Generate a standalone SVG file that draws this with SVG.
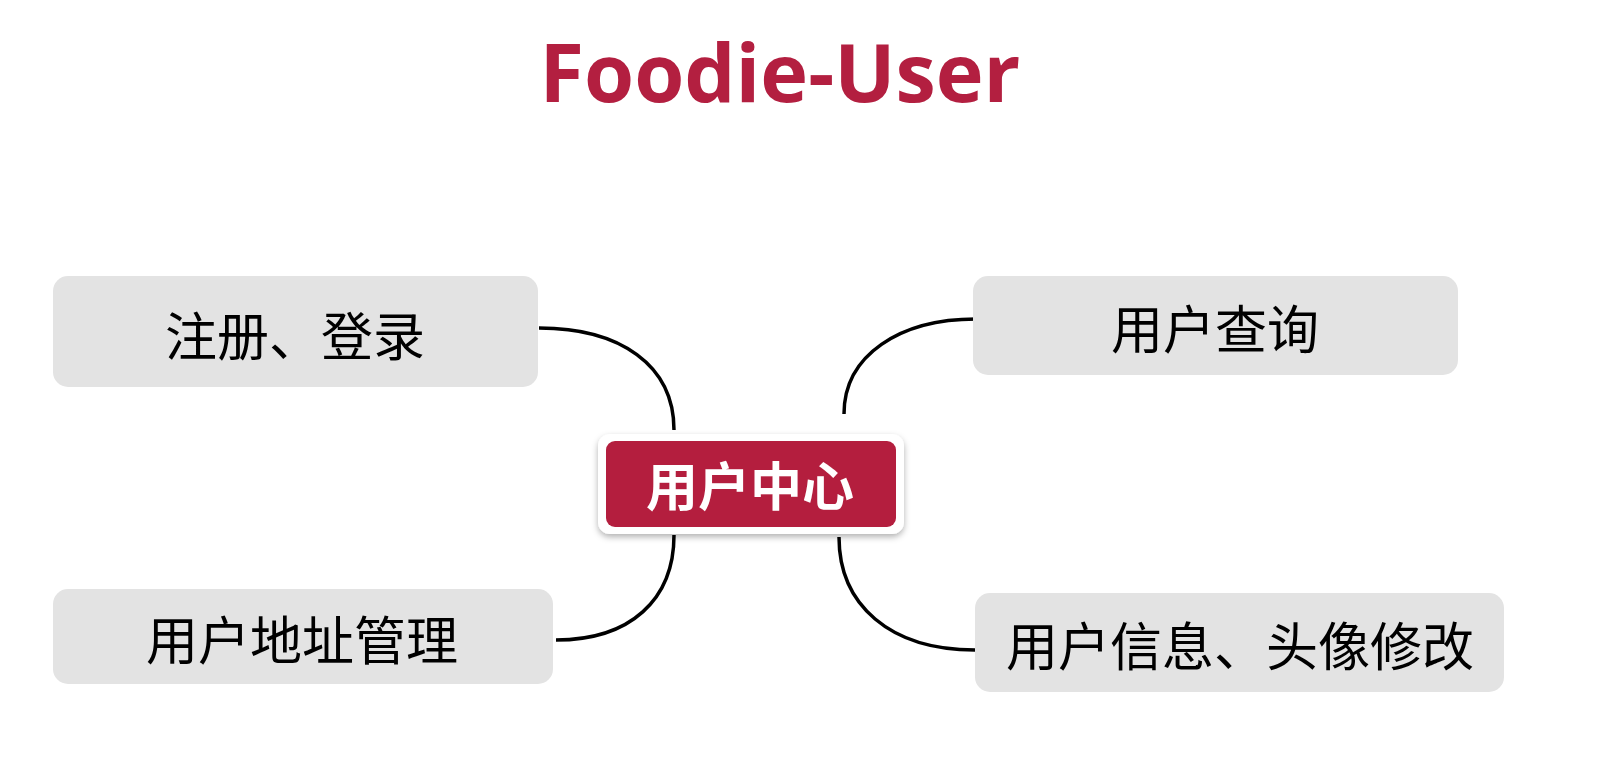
<svg xmlns="http://www.w3.org/2000/svg" width="1614" height="760" viewBox="0 0 1614 760">
<style>
.title{font-family:"Open Sans","Liberation Sans",sans-serif;font-weight:700;font-size:81px;fill:#B31F40}
.box{fill:#E3E3E3}
.lbl{font-family:"Noto Sans CJK SC",sans-serif;font-size:52px;fill:#000;text-anchor:middle;dominant-baseline:central}
.clbl{font-family:"Noto Sans CJK SC",sans-serif;font-size:52px;font-weight:700;fill:#fff;text-anchor:middle;dominant-baseline:central}
.conn path{fill:none;stroke:#000;stroke-width:3.5}
</style>
<defs>
<filter id="sh" x="-10%" y="-20%" width="120%" height="150%">
<feDropShadow dx="0" dy="3" stdDeviation="3" flood-color="#000" flood-opacity="0.3"/>
</filter>
</defs>
<rect width="1614" height="760" fill="#fff"/>
<text class="title" x="780" y="102" text-anchor="middle">Foodie-User</text>
<g class="conn" id="connectors">
<path d="M539,328 C620,328 674,365 674,430"/>
<path d="M976,319 C900,319 844,355 844,414"/>
<path d="M674,535 C674,600 630,640 556,640"/>
<path d="M839,537 C839,605 890,650 975,650"/>
</g>
<g id="center">
<rect x="598" y="434" width="306" height="100" rx="12" fill="#fff" filter="url(#sh)"/>
<rect x="606" y="441" width="290" height="86" rx="9" fill="#B41E3E"/>
<text class="clbl" x="750" y="483">用户中心</text>
</g>
<g id="n1">
<rect class="box" x="53" y="276" width="485" height="111" rx="15"/>
<text class="lbl" x="295" y="333">注册、登录</text>
</g>
<g id="n2">
<rect class="box" x="973" y="276" width="485" height="99" rx="15"/>
<text class="lbl" x="1215" y="326">用户查询</text>
</g>
<g id="n3">
<rect class="box" x="53" y="589" width="500" height="95" rx="15"/>
<text class="lbl" x="302" y="637">用户地址管理</text>
</g>
<g id="n4">
<rect class="box" x="975" y="593" width="529" height="99" rx="15"/>
<text class="lbl" x="1240" y="643">用户信息、头像修改</text>
</g>
</svg>
